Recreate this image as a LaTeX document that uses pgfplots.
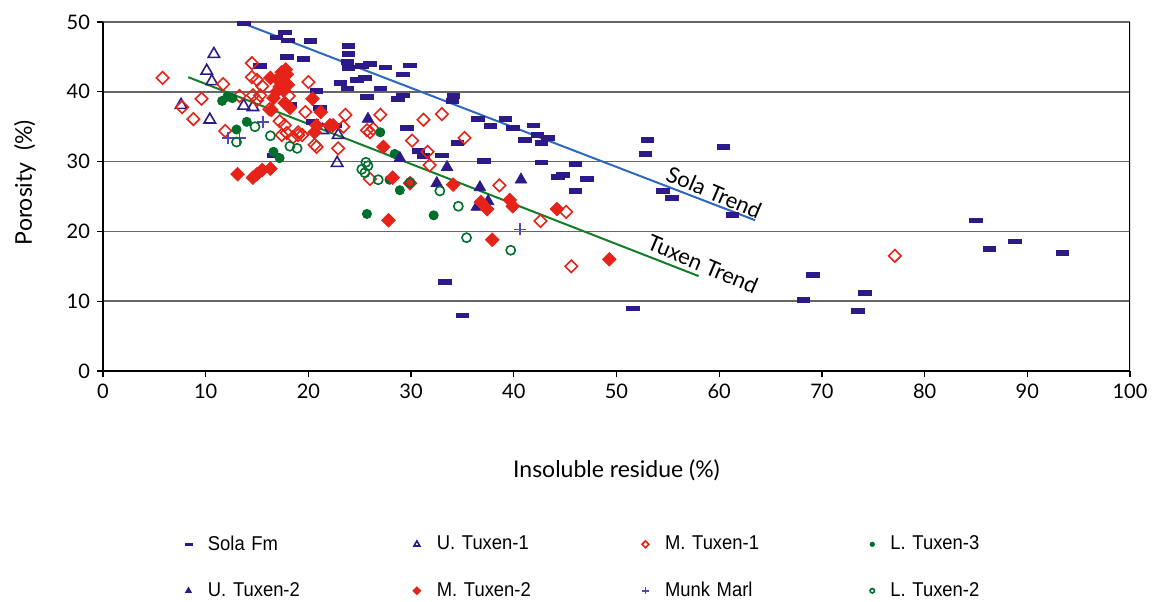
\documentclass[border=0pt]{standalone}
\usepackage{fontspec}
\setmainfont{Lato}
\newfontfamily\legfont[FakeStretch=0.92]{Liberation Sans}
\usepackage{pgfplots}
\pgfplotsset{compat=1.18}

\definecolor{solacol}{RGB}{45,25,135}
\definecolor{munkcol}{RGB}{80,70,190}
\definecolor{redcol}{RGB}{230,35,25}
\definecolor{greencol}{RGB}{0,110,45}
\definecolor{solatrend}{RGB}{45,105,190}
\definecolor{tuxentrend}{RGB}{20,125,40}

\pgfplotstableread{
x y
13.7 49.8
17.7 48.5
16.9 47.8
18.0 47.4
17.9 45.0
15.3 43.7
18.2 38.1
16.6 30.9
20.2 47.3
19.5 44.7
23.9 46.6
23.9 45.4
23.8 44.3
23.9 43.4
25.2 43.7
26.0 44.0
27.5 43.5
29.9 43.8
29.2 42.5
25.5 42.0
24.7 41.7
23.1 41.3
23.8 40.5
27.0 40.5
20.8 40.1
25.7 39.3
28.7 39.0
29.2 39.5
34.1 39.4
34.0 38.7
21.1 37.7
36.5 36.1
20.4 35.7
22.6 35.2
29.6 34.8
34.5 32.7
30.7 31.5
31.2 30.8
33.0 30.9
39.2 36.1
37.7 35.1
39.9 34.8
41.9 35.2
42.3 33.8
43.3 33.4
41.1 33.1
42.7 32.7
53.0 33.1
52.8 31.1
37.1 30.1
42.7 29.9
46.0 29.7
44.3 27.8
44.8 28.1
47.1 27.5
46.0 25.8
54.5 25.8
55.4 24.8
61.3 22.4
51.6 9.0
35.0 8.0
60.4 32.1
85.0 21.6
86.3 17.5
88.8 18.6
93.4 16.9
69.1 13.8
68.2 10.2
74.2 11.2
73.5 8.6
33.3 12.8
}\solafm

\pgfplotstableread{
x y
10.8 45.4
10.1 43.0
10.6 41.5
7.6 38.1
10.4 36.0
13.7 38.0
14.6 37.8
21.4 34.5
22.9 33.8
22.8 29.8
}\utuxena

\pgfplotstableread{
x y
5.8 42.0
11.7 41.1
9.6 39.0
8.8 36.1
11.9 34.4
7.7 37.8
14.5 44.1
14.5 42.1
15.0 41.7
15.5 40.8
13.3 39.4
14.6 39.5
15.3 39.5
15.0 38.8
18.1 39.4
17.2 35.8
17.7 35.2
17.9 34.1
18.5 33.5
19.0 34.2
20.0 41.4
19.7 37.1
23.6 36.7
17.4 33.8
19.0 33.8
19.4 33.8
20.8 32.1
22.9 31.9
23.4 35.0
25.7 34.5
26.3 34.7
27.0 36.7
26.0 34.2
20.6 32.4
31.2 36.0
33.0 36.8
30.1 33.0
31.6 31.4
35.2 33.4
31.8 29.5
26.0 27.5
38.6 26.6
45.1 22.8
42.6 21.5
45.6 15.0
77.1 16.5
16.2 37.5
}\mtuxena

\pgfplotstableread{
x y
11.6 38.7
12.1 39.3
12.6 39.1
14.0 35.7
13.0 34.6
16.6 31.4
17.2 30.5
27.0 34.2
28.4 31.1
27.9 27.4
28.9 25.9
25.7 22.5
32.2 22.3
36.9 23.9
}\ltuxenc

\pgfplotstableread{
x y
25.8 36.1
28.9 30.5
33.5 29.2
32.5 26.9
36.7 26.3
36.4 23.5
37.5 24.3
40.7 27.4
}\utuxenb

\pgfplotstableread{
x y
16.3 42.0
17.4 42.8
17.5 41.4
17.2 40.7
16.9 40.0
16.6 39.1
16.4 37.4
17.7 38.4
17.8 43.2
17.0 41.8
17.9 42.5
17.6 40.2
18.0 41.0
13.1 28.2
14.6 27.7
15.0 28.2
15.5 28.8
16.3 29.0
18.2 37.7
20.4 39.0
21.2 37.1
22.4 35.2
20.8 35.2
20.6 34.2
22.1 35.2
27.3 32.1
28.2 27.7
34.1 26.7
27.8 21.6
29.9 26.9
37.4 23.2
36.8 24.2
39.6 24.5
39.9 23.6
44.2 23.2
37.9 18.8
49.3 16.0
}\mtuxenb

\pgfplotstableread{
x y
15.6 35.7
12.2 33.4
13.3 33.4
40.6 20.3
}\munkmarl

\pgfplotstableread{
x y
13.0 32.8
14.8 35.0
16.3 33.7
18.2 32.2
18.9 31.9
25.2 28.9
25.6 29.9
25.8 29.4
25.5 28.4
26.8 27.4
32.8 25.8
34.6 23.6
35.4 19.1
39.7 17.3
29.9 27.0
}\ltuxenb

\begin{document}
\begin{tikzpicture}
\path[use as bounding box] (-51.5pt,-115pt) rectangle (525pt,185.5pt);
\begin{axis}[
  at={(0pt,0pt)}, anchor=south west,
  scale only axis, width=513.5pt, height=174.5pt,
  xmin=0, xmax=100, ymin=0, ymax=50,
  xtick={0,10,...,100}, ytick={0,10,...,50},
  axis x line*=bottom, axis y line*=left,
  axis line style={black, line width=0.9pt, -},
  ymajorgrids, grid style={black!60, line width=0.8pt},
  tick align=outside, major tick length=3pt,
  tick style={black, line width=0.6pt},
  /pgf/number format/assume math mode=true,
  ticklabel style={font=\fontsize{10}{12}\selectfont},
  xlabel={Insoluble residue (\%)},
  ylabel={Porosity\ \ (\%)},
  label style={font=\fontsize{11.5}{14}\selectfont},
  xlabel style={at={(axis description cs:0.5,-0.284)}, anchor=center},
  ylabel style={at={(axis description cs:-0.076,0.54)}, anchor=center},
  legend columns=4,
  legend style={at={(axis description cs:0.0798,-0.46)}, anchor=north west,
    draw=none, fill=none, inner sep=0pt, outer sep=0pt,
    font=\legfont\fontsize{10}{12}\selectfont,
    cells={anchor=west}, nodes={text width=100.5pt, inner sep=2pt},
    /tikz/every odd column/.append style={column sep=6pt},
    row sep=10.5pt},
  legend image post style={mark size=1.3pt},
]
\addplot[solatrend, line width=1pt, forget plot] coordinates {(13.3,50) (63.5,21.6)};
\addplot[tuxentrend, line width=1pt, forget plot] coordinates {(8.3,42.1) (58.0,13.6)};

\addplot[only marks, mark=square*, mark size=1.25pt,
  mark options={draw=solacol, fill=solacol, xscale=2.5, yscale=0.9},
  legend image post style={mark size=0.7pt}] table {\solafm};
\addlegendentry{Sola Fm}
\addplot[only marks, mark=triangle, mark size=3.3pt,
  mark options={draw=solacol, line width=0.8pt},
  legend image post style={mark size=1.7pt}] table {\utuxena};
\addlegendentry{U. Tuxen-1}
\addplot[only marks, mark=square, mark size=2.2pt,
  mark options={draw=redcol, line width=0.8pt, rotate=45},
  legend image post style={mark size=1.2pt}] table {\mtuxena};
\addlegendentry{M. Tuxen-1}
\addplot[only marks, mark=*, mark size=2.3pt,
  mark options={draw=greencol, fill=greencol},
  legend image post style={mark size=1.1pt}] table {\ltuxenc};
\addlegendentry{L. Tuxen-3}
\addplot[only marks, mark=triangle*, mark size=3.3pt,
  mark options={draw=solacol, fill=solacol},
  legend image post style={mark size=1.7pt}] table {\utuxenb};
\addlegendentry{U. Tuxen-2}
\addplot[only marks, mark=square*, mark size=2.4pt,
  mark options={draw=redcol, fill=redcol, rotate=45},
  legend image post style={mark size=1.4pt}] table {\mtuxenb};
\addlegendentry{M. Tuxen-2}
\addplot[only marks, mark=+, mark size=3pt,
  mark options={draw=munkcol, line width=0.8pt},
  legend image post style={mark size=1.8pt}] table {\munkmarl};
\addlegendentry{Munk Marl}
\addplot[only marks, mark=o, mark size=2.3pt,
  mark options={draw=greencol, line width=0.8pt},
  legend image post style={mark size=1.1pt}] table {\ltuxenb};
\addlegendentry{L. Tuxen-2}

\draw[black, line width=0.9pt] (axis cs:100,0) -- (axis cs:100,50);
\node[rotate=-23, font=\fontsize{11}{13}\selectfont] at (axis cs:59.5,25.6) {Sola Trend};
\node[rotate=-23, font=\fontsize{11}{13}\selectfont] at (axis cs:58.4,15.3) {Tuxen Trend};
\end{axis}
\end{tikzpicture}
\end{document}
